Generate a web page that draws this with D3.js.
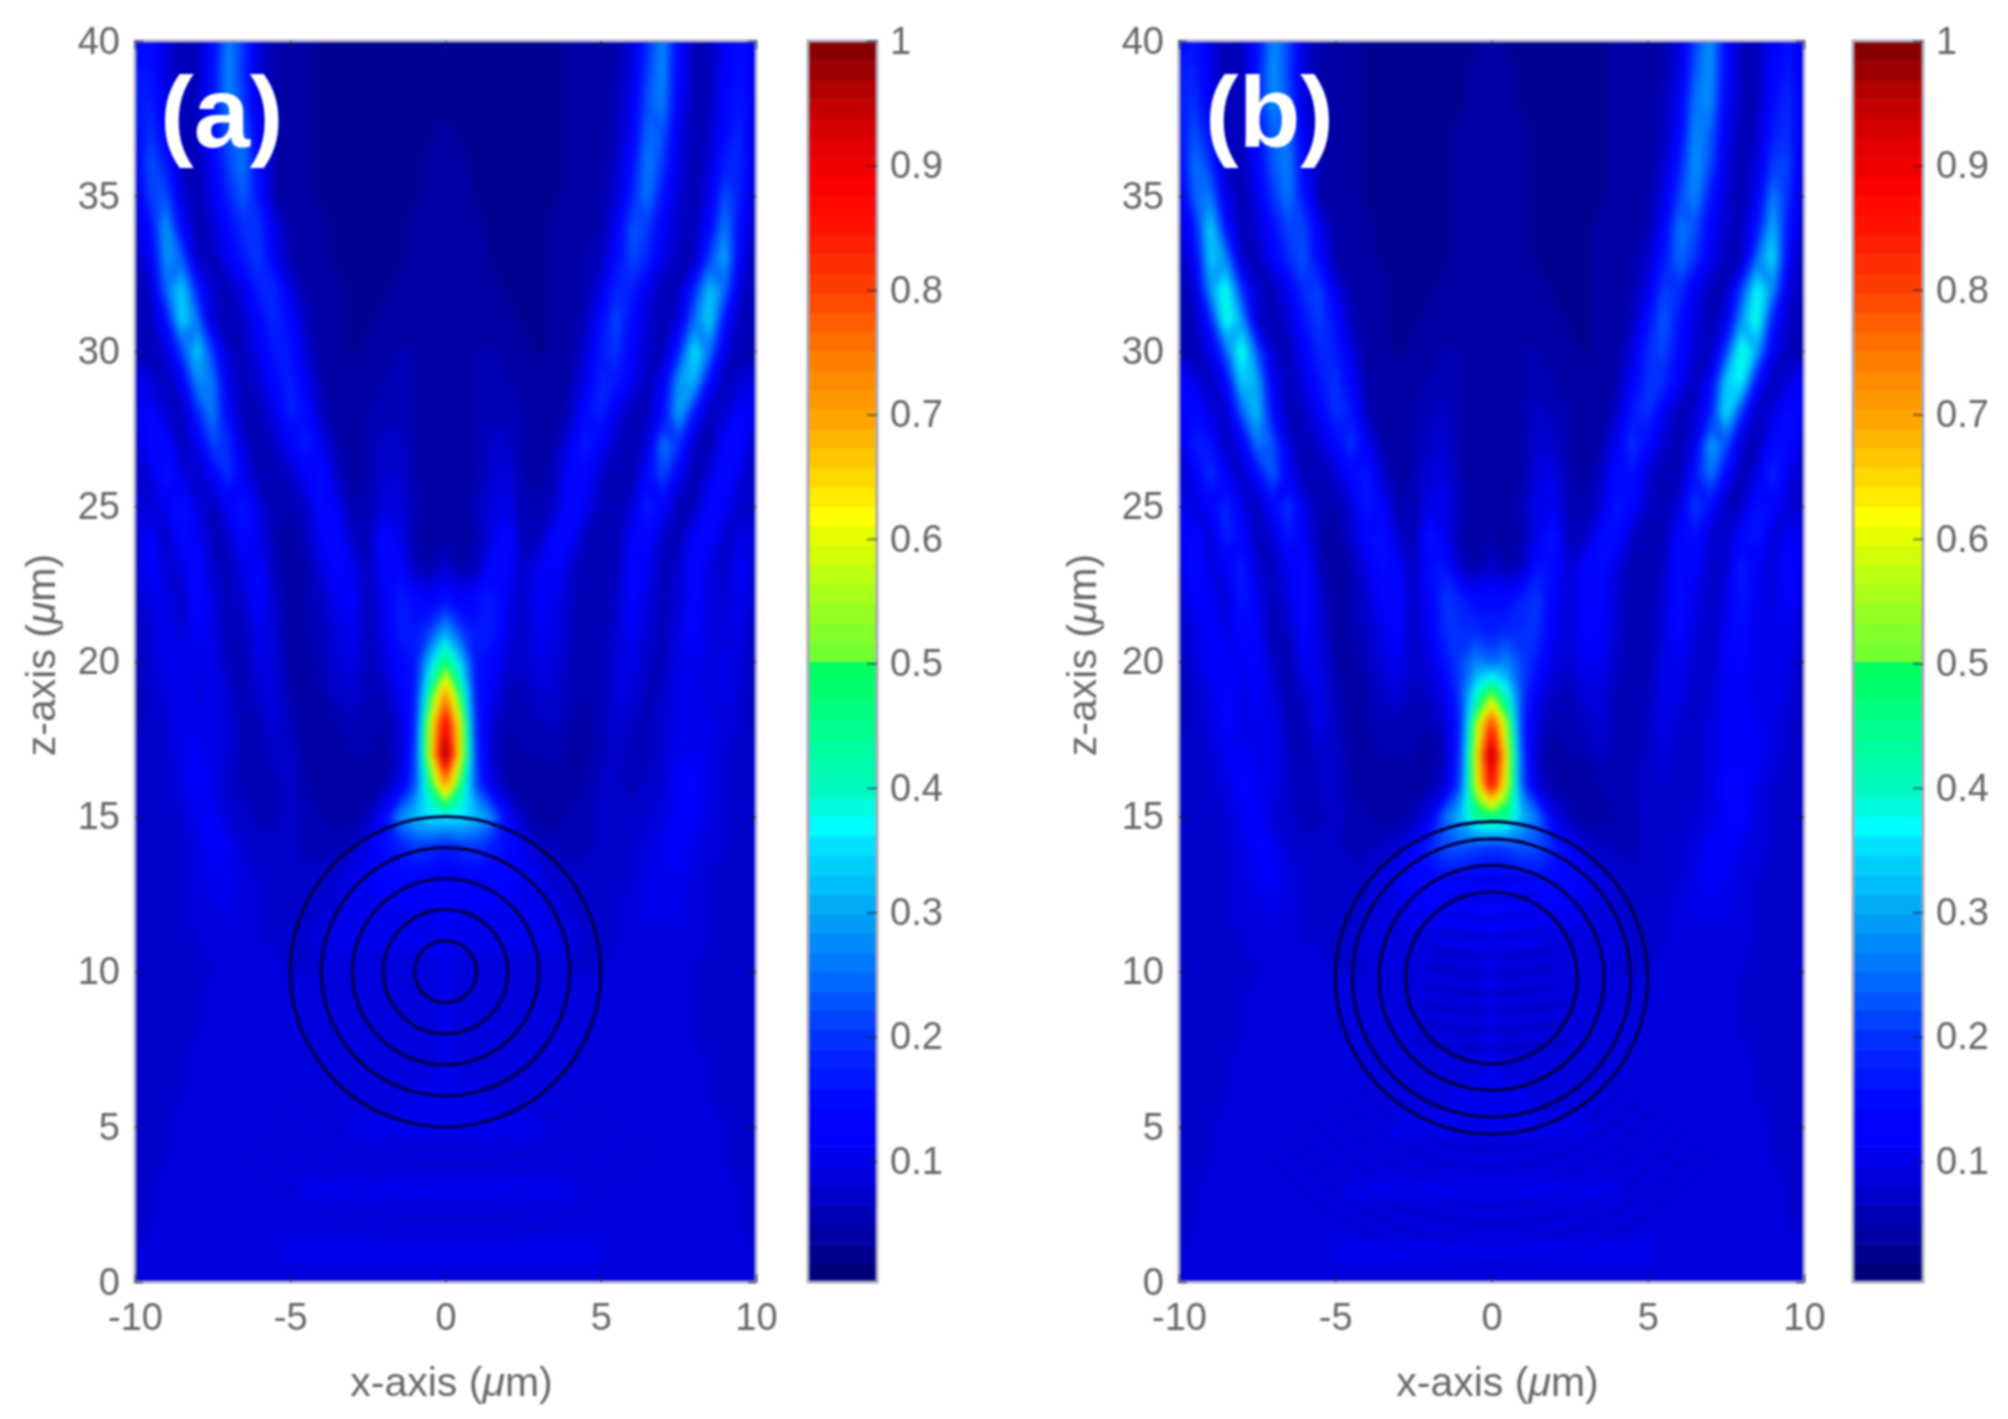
<!DOCTYPE html>
<html>
<head>
<meta charset="utf-8">
<script src="https://cdn.jsdelivr.net/npm/d3@7"></script>
<style>
  html, body { margin: 0; background: #fff; }
  svg { display: block; filter: blur(1px); }
  text { font-family: "Liberation Sans", Arial, sans-serif; }
</style>
</head>
<body>
<div id="chart"></div>
<script>
// field intensity in percent of the maximum
// rows go from z = 40 down to z = 0, columns from x = -10 to x = 10 every 0.5
const fieldA = [
  [14,15,9,5,6,14,27,20,8,5,4,4,3,3,3,3,3,3,3,3,3,3,3,3,3,3,3,3,4,4,4,5,8,19,28,14,6,6,11,15,11],
  [16,16,9,5,6,15,28,19,8,5,4,4,3,3,3,3,3,3,3,3,3,3,3,3,3,3,3,3,4,4,4,5,9,21,28,13,6,6,12,16,10],
  [16,18,10,5,6,16,27,21,9,5,4,4,3,3,3,3,3,3,3,3,3,3,3,3,3,3,3,3,4,4,4,6,10,23,27,12,6,6,13,17,9],
  [14,20,13,6,6,14,23,25,11,5,4,4,3,3,3,3,3,3,3,3,4,3,3,3,3,3,3,3,4,4,4,6,12,25,23,10,5,7,15,18,8],
  [12,23,17,6,5,12,21,26,13,5,4,4,3,3,3,3,3,3,3,4,4,4,3,3,3,3,3,3,4,4,4,7,15,27,20,9,5,8,18,19,8],
  [10,21,23,9,5,10,18,24,15,5,4,4,3,3,3,3,3,3,3,4,4,4,3,3,3,3,3,3,4,4,5,8,18,26,16,8,5,10,23,17,7],
  [8,15,30,14,5,8,14,20,20,9,5,4,4,3,3,3,3,3,4,4,4,4,4,3,3,3,3,4,4,4,5,11,23,21,12,7,6,14,27,14,6],
  [6,11,29,24,7,6,11,17,21,11,5,4,4,3,3,3,3,3,4,4,4,4,4,3,3,3,3,4,4,5,6,14,22,18,10,6,6,21,31,11,5],
  [5,7,25,34,18,7,6,10,18,19,9,5,4,4,3,3,3,4,4,4,4,4,4,4,3,3,3,4,4,5,9,19,18,10,6,6,18,33,25,8,5],
  [5,6,15,35,26,8,5,7,14,19,14,6,4,4,3,3,4,4,4,4,4,4,4,4,4,3,3,4,4,6,14,22,14,8,5,9,25,35,15,6,5],
  [5,5,9,21,34,20,7,6,11,17,16,8,4,4,3,4,4,5,5,4,4,4,5,5,4,4,3,4,4,8,17,20,13,7,6,18,36,26,9,5,5],
  [11,9,6,11,28,26,10,6,8,14,18,11,5,4,4,4,5,5,5,4,4,4,5,5,5,4,4,4,5,10,18,17,11,6,11,29,32,14,6,8,11],
  [10,13,8,6,18,27,13,5,6,10,18,15,6,4,4,5,6,6,5,4,4,4,5,6,6,5,4,4,6,15,18,10,6,6,14,31,17,6,8,13,10],
  [8,14,14,6,10,22,19,8,5,7,12,18,11,5,4,5,7,7,5,4,4,4,5,7,7,5,4,5,10,18,12,7,5,9,26,20,7,5,13,13,7],
  [6,9,17,10,7,12,20,11,5,5,7,12,15,7,4,5,8,8,5,4,4,4,5,8,9,5,4,6,13,14,7,5,5,14,22,12,5,9,16,9,6],
  [11,8,11,16,9,6,12,17,9,5,5,7,15,11,5,5,9,9,6,4,4,4,6,9,10,5,5,7,15,11,6,5,8,18,13,6,6,14,12,7,7],
  [9,12,7,15,12,6,7,15,10,5,4,6,12,14,7,5,15,10,5,4,5,4,5,10,15,5,6,13,13,6,5,5,12,14,7,6,12,14,7,10,9],
  [8,13,8,9,15,7,6,10,13,6,4,5,9,13,11,6,13,14,6,5,8,5,6,14,13,7,11,13,8,5,5,6,13,11,6,7,15,9,7,12,8],
  [7,10,10,7,14,9,6,8,13,7,4,5,7,11,12,6,10,17,15,12,16,12,15,17,10,7,12,11,7,5,5,7,13,9,6,8,14,9,8,11,7],
  [6,8,11,8,12,10,5,6,11,8,4,5,6,9,11,6,10,17,16,21,30,21,16,17,10,7,11,10,7,5,5,8,12,8,6,9,13,9,9,10,6],
  [6,8,10,10,10,11,6,5,10,9,4,4,6,8,10,6,8,14,16,33,48,33,16,14,8,7,10,9,6,5,5,9,10,7,6,10,11,9,10,9,6],
  [6,7,9,11,9,10,8,5,8,9,5,4,5,7,8,6,6,11,16,45,72,45,16,11,6,6,8,8,6,5,5,9,9,6,7,10,10,9,10,8,6],
  [6,7,8,11,10,10,9,5,6,9,6,4,4,5,6,5,5,8,17,58,90,58,17,8,5,5,6,7,5,4,6,8,7,6,8,10,10,10,9,8,6],
  [7,7,8,10,12,10,8,6,5,7,7,4,4,4,5,5,4,7,19,60,100,60,19,7,4,5,5,6,4,4,6,7,6,6,8,11,11,10,8,7,7],
  [7,7,8,9,13,10,7,6,5,6,7,5,4,4,4,4,5,10,22,45,72,45,22,10,5,4,4,4,4,5,7,7,6,7,8,12,13,10,8,7,7],
  [7,8,8,8,11,12,8,7,6,6,7,6,5,4,4,6,13,27,32,36,36,36,32,27,13,6,4,4,5,6,7,7,7,8,9,12,12,9,8,8,7],
  [8,8,8,8,9,12,11,8,7,7,7,6,6,6,7,10,15,17,20,19,17,19,20,17,15,10,7,6,6,6,7,7,8,9,11,12,10,9,8,8,8],
  [8,8,8,8,9,11,11,9,8,7,7,7,7,8,10,11,12,13,13,13,12,13,13,13,12,11,10,8,7,7,7,8,8,10,11,11,9,8,8,8,8],
  [8,8,8,8,9,9,10,9,8,8,7,7,8,9,10,11,11,11,11,11,12,11,11,11,11,11,10,9,8,7,7,8,9,10,10,10,9,8,8,8,8],
  [8,8,8,8,8,9,9,9,8,8,8,8,9,10,10,10,10,10,10,10,11,10,10,10,10,10,10,10,9,8,8,8,9,9,9,9,9,8,8,8,8],
  [8,8,8,8,8,8,9,9,9,9,8,8,8,9,9,9,9,9,9,9,10,9,9,9,9,9,9,9,8,8,8,9,9,9,9,9,8,8,8,8,8],
  [8,8,8,8,8,9,9,9,9,9,9,9,9,9,9,9,9,9,9,9,10,9,9,9,9,9,9,9,9,9,9,9,9,9,9,9,8,8,8,8,8],
  [8,8,8,8,8,9,9,9,9,9,9,9,9,9,9,9,9,9,9,9,10,9,9,9,9,9,9,9,9,9,9,9,9,9,9,9,8,8,8,8,8],
  [8,8,8,8,9,9,9,9,9,9,9,9,9,9,9,9,9,9,9,9,10,9,9,9,9,9,9,9,9,9,9,9,9,9,9,9,9,8,8,8,8],
  [8,8,8,8,9,9,9,9,9,9,9,9,9,9,9,9,9,9,10,10,10,10,10,9,9,9,9,9,9,9,9,9,9,9,9,9,9,8,8,8,8],
  [8,8,8,9,9,9,9,9,9,9,9,9,9,9,10,10,10,10,10,10,10,10,10,10,10,10,10,9,9,9,9,9,9,9,9,9,9,9,8,8,8],
  [8,8,8,9,9,9,9,9,9,9,9,9,9,9,9,9,9,9,9,9,9,9,9,9,9,9,9,9,9,9,9,9,9,9,9,9,9,9,8,8,8],
  [8,8,9,9,9,9,9,9,9,9,9,10,10,10,10,10,10,10,10,10,10,10,10,10,10,10,10,10,10,9,9,9,9,9,9,9,9,9,9,8,8],
  [8,8,9,9,9,9,9,9,9,9,9,9,9,9,9,9,9,9,9,9,9,9,9,9,9,9,9,9,9,9,9,9,9,9,9,9,9,9,9,8,8],
  [8,9,9,9,9,9,9,9,9,9,10,10,10,10,10,10,10,10,10,10,10,10,10,10,10,10,10,10,10,10,10,9,9,9,9,9,9,9,9,9,8],
  [8,9,9,9,9,9,9,9,9,9,9,9,9,9,9,9,9,9,9,9,9,9,9,9,9,9,9,9,9,9,9,9,9,9,9,9,9,9,9,9,8]
]

const fieldB = [
  [14,16,10,5,6,15,28,22,8,5,4,4,3,3,3,3,3,3,3,3,4,3,3,3,3,3,3,3,4,4,4,5,8,21,29,15,6,6,12,16,12],
  [17,18,10,5,6,16,29,21,8,5,4,4,3,3,3,3,3,3,3,4,4,4,3,3,3,3,3,3,4,4,4,5,9,23,29,14,6,6,13,17,11],
  [17,20,11,5,6,17,28,23,9,5,4,4,3,3,3,3,3,3,3,4,4,4,3,3,3,3,3,3,4,4,4,6,11,26,28,13,6,6,15,19,10],
  [15,23,15,6,6,15,24,26,11,5,4,4,3,3,3,3,3,3,4,4,4,4,4,3,3,3,3,3,4,4,4,6,13,28,24,11,5,7,17,20,9],
  [13,26,20,6,5,13,23,27,13,5,4,4,3,3,3,3,3,3,4,4,4,4,4,3,3,3,3,3,4,4,4,7,17,29,22,9,5,9,21,21,8],
  [10,24,27,10,5,10,20,26,16,5,4,4,3,3,3,3,3,3,4,4,4,4,4,3,3,3,3,3,4,4,5,9,21,28,17,8,5,11,27,19,7],
  [8,17,35,16,5,8,15,22,22,10,5,4,4,3,3,3,3,3,4,4,4,4,4,3,3,3,3,4,4,4,5,12,26,23,13,7,6,16,32,16,6],
  [6,12,34,28,7,6,12,19,23,13,5,4,4,3,3,3,3,3,4,4,4,4,4,3,3,3,3,4,4,5,7,16,25,20,11,6,6,25,36,12,5],
  [5,8,29,39,20,7,6,11,20,21,10,5,4,4,3,3,3,4,4,4,4,4,4,4,3,3,3,4,4,5,10,21,20,11,6,6,21,38,28,9,5],
  [5,6,17,40,30,8,5,8,16,21,15,6,4,4,3,3,4,4,4,4,4,4,4,4,4,3,3,4,4,6,15,24,16,9,5,10,29,40,17,7,5],
  [6,5,10,24,40,23,7,6,12,19,18,9,4,4,3,4,4,5,5,4,4,4,5,5,4,4,3,4,4,9,19,22,14,8,6,21,41,30,11,6,5],
  [13,10,6,13,34,31,11,6,9,16,20,13,5,4,4,4,5,6,5,4,4,4,5,6,5,4,4,4,5,12,20,19,12,6,12,34,37,15,6,9,13],
  [12,15,9,7,23,33,15,5,7,12,20,17,6,4,4,5,6,7,5,4,4,4,5,7,6,5,4,4,7,17,20,11,6,7,17,36,20,6,9,15,12],
  [9,17,16,6,11,26,23,9,5,8,13,20,12,5,4,5,7,8,5,4,4,4,5,8,7,5,4,5,11,20,14,8,5,10,30,23,8,5,15,15,8],
  [7,11,20,12,7,14,24,12,5,5,8,14,17,8,4,5,9,9,5,4,4,4,5,9,10,5,4,7,15,16,8,5,5,16,26,14,5,10,19,10,7],
  [13,9,13,19,10,6,14,20,10,5,5,8,17,13,5,5,10,11,6,4,4,4,6,11,11,5,5,8,17,13,7,5,9,21,15,6,7,16,14,8,8],
  [11,14,8,18,14,6,8,17,12,5,4,7,14,16,8,5,17,11,5,4,5,4,5,11,17,5,7,15,15,7,5,5,14,16,8,7,14,17,8,12,10],
  [9,16,9,11,18,8,6,11,15,6,4,5,10,15,13,6,15,17,7,5,8,5,7,17,15,8,13,15,9,5,5,7,15,13,7,8,18,11,8,14,9],
  [8,12,12,8,17,11,6,9,15,8,4,5,8,13,14,7,12,20,18,14,15,14,18,20,12,8,14,13,8,5,5,8,15,10,7,9,17,11,9,13,8],
  [7,9,13,9,14,12,5,7,13,9,4,5,7,10,13,7,11,19,19,19,17,19,19,19,11,8,13,12,8,5,5,9,14,9,7,11,15,10,10,11,7],
  [6,9,12,12,11,13,7,5,11,10,5,4,6,9,11,7,9,16,21,27,24,27,21,16,9,8,11,11,7,5,5,10,11,8,7,11,13,10,11,10,6],
  [6,7,10,13,10,12,9,5,8,10,6,4,5,7,9,6,7,11,21,38,52,38,21,11,7,6,9,9,6,5,6,10,10,7,8,11,12,10,11,9,6],
  [6,7,9,13,10,11,11,6,6,10,7,4,5,6,6,5,5,8,18,54,82,54,18,8,5,5,7,8,6,5,7,10,8,7,9,12,12,11,10,8,6],
  [7,7,8,11,12,10,11,7,5,8,8,4,4,5,5,5,4,6,20,60,98,60,20,6,4,5,5,7,5,5,7,9,7,7,9,12,12,12,9,8,7],
  [7,7,8,9,13,11,10,7,6,7,8,5,4,4,4,4,5,8,22,58,88,58,22,8,5,4,4,5,5,6,8,8,7,7,9,13,13,10,8,7,7],
  [7,8,8,8,11,12,8,7,6,6,7,6,5,4,4,6,10,25,32,44,46,44,32,25,10,6,4,4,5,6,7,7,7,8,9,12,13,9,8,8,7],
  [8,8,8,8,9,13,11,8,7,7,7,6,6,7,8,12,18,22,23,21,20,21,23,22,18,12,8,7,6,6,7,7,8,9,12,12,10,9,8,8,8],
  [8,8,8,8,9,11,12,9,8,7,7,7,8,9,11,14,14,15,14,13,12,13,14,15,14,14,11,9,8,7,7,8,8,10,12,11,9,8,8,8,8],
  [8,8,8,8,9,9,10,9,8,8,7,7,8,9,10,11,11,12,12,12,14,12,12,12,11,11,10,9,8,7,7,8,9,10,10,10,9,8,8,8,8],
  [8,8,8,8,8,9,9,9,8,8,8,8,9,9,9,9,9,10,10,10,11,10,10,10,9,9,9,9,9,8,8,8,9,9,9,9,9,8,8,8,8],
  [8,8,8,8,8,8,9,9,9,9,8,8,8,9,9,9,9,9,9,9,10,9,9,9,9,9,9,9,8,8,8,9,9,9,9,9,8,8,8,8,8],
  [8,8,8,8,8,9,9,9,9,9,9,9,9,9,9,9,9,9,9,9,10,9,9,9,9,9,9,9,9,9,9,9,9,9,9,9,8,8,8,8,8],
  [8,8,8,8,8,9,9,9,9,9,9,9,9,9,9,9,9,9,9,9,10,9,9,9,9,9,9,9,9,9,9,9,9,9,9,9,8,8,8,8,8],
  [8,8,8,8,9,9,9,9,9,9,9,9,9,9,9,9,9,9,9,9,10,9,9,9,9,9,9,9,9,9,9,9,9,9,9,9,9,8,8,8,8],
  [8,8,8,8,9,9,9,9,9,9,9,9,9,9,9,9,9,9,10,10,10,10,10,9,9,9,9,9,9,9,9,9,9,9,9,9,9,8,8,8,8],
  [8,8,8,9,9,9,9,9,9,9,9,9,9,9,10,10,10,10,10,10,10,10,10,10,10,10,10,9,9,9,9,9,9,9,9,9,9,9,8,8,8],
  [8,8,8,9,9,9,9,9,9,9,9,9,9,9,9,9,9,9,9,9,9,9,9,9,9,9,9,9,9,9,9,9,9,9,9,9,9,9,8,8,8],
  [8,8,9,9,9,9,9,9,9,9,9,10,10,10,10,10,10,10,10,10,10,10,10,10,10,10,10,10,10,9,9,9,9,9,9,9,9,9,9,8,8],
  [8,8,9,9,9,9,9,9,9,9,9,9,9,9,9,9,9,9,9,9,9,9,9,9,9,9,9,9,9,9,9,9,9,9,9,9,9,9,9,8,8],
  [8,9,9,9,9,9,9,9,9,9,10,10,10,10,10,10,10,10,10,10,10,10,10,10,10,10,10,10,10,10,10,9,9,9,9,9,9,9,9,9,8],
  [8,9,9,9,9,9,9,9,9,9,9,9,9,9,9,9,9,9,9,9,9,9,9,9,9,9,9,9,9,9,9,9,9,9,9,9,9,9,9,9,8]
]

// shell radii in um, sphere centre on the z axis
const shellsA = [1, 2, 3, 4, 5]
const shellsB = [2.75, 3.6, 4.45, 5]
const centreZA = 10
const centreZB = 9.8

// dark interference fringes: radius in um, measured from the z given per group
const ringsBelowA = [5.7, 6.3, 6.9, 7.5, 8.1, 8.7]
const ringsBelowB = [5.5, 6.1, 6.7, 7.3, 7.9, 8.5, 9.1]
const ringsInsideB = [7, 7.6, 8.2, 8.8, 9.4, 10, 10.6, 11.2, 11.8, 12.4]

const xTicks = [-10, -5, 0, 5, 10]
const zTicks = [0, 5, 10, 15, 20, 25, 30, 35, 40]
const barTicks = [0.1, 0.2, 0.3, 0.4, 0.5, 0.6, 0.7, 0.8, 0.9, 1]

// colour map, note the jump at 0.5
const mapStops = [0, 0.03, 0.07, 0.1, 0.12, 0.15, 0.2, 0.25, 0.3, 0.35, 0.37, 0.4, 0.45, 0.5, 0.505, 0.55, 0.6, 0.62, 0.65, 0.7, 0.75, 0.8, 0.85, 0.88, 0.92, 0.96, 1]
const mapColours = ['#00006e', '#000096', '#0000c8', '#0000eb', '#0000ff', '#0008ff', '#0032ff', '#006eff', '#00a5f5', '#00dcff', '#00ffff', '#00fabe', '#00ff8c', '#00ff5a', '#6eff32', '#a0ff1e', '#e1ff00', '#ffff00', '#ffd700', '#ffa000', '#ff7800', '#ff4100', '#ff1400', '#ff0000', '#e10000', '#b40000', '#7d0000']

const width = 2008
const height = 1419
const plotTop = 41
const plotBottom = 1282
const barMin = 0.003
const levels = 64

const colour = d3.scaleLinear().domain(mapStops).range(mapColours).interpolate(d3.interpolateRgb)

const svg = d3
  .select('#chart')
  .append('svg')
  .attr('width', width)
  .attr('height', height)

const tickStyle = g => {
  g.select('.domain').remove()
  g.selectAll('line').attr('stroke', '#1c1c3a').attr('stroke-width', 2).attr('stroke-opacity', 0.55)
  g.selectAll('text').attr('fill', '#666').attr('font-size', 38)
}

function drawPanel (cfg) {
  const x = d3.scaleLinear().domain([-10, 10]).range([cfg.left, cfg.right])
  const y = d3.scaleLinear().domain([0, 40]).range([plotBottom, plotTop])

  const nx = cfg.field[0].length
  const nz = cfg.field.length
  cfg.field.forEach((row, i) => {
    if (row.length !== nx) throw new Error(cfg.name + ' row ' + i + ' has ' + row.length)
  })

  // grid index to data units, d3.contours puts cell i at i + 0.5
  const gridX = d3.scaleLinear().domain([0.5, nx - 0.5]).range([-10, 10])
  const gridZ = d3.scaleLinear().domain([0.5, nz - 0.5]).range([40, 0])
  const path = d3.geoPath(d3.geoTransform({
    point: function (gx, gz) {
      this.stream.point(x(gridX(gx)), y(gridZ(gz)))
    }
  }))

  const step = (1 - barMin) / levels
  const thresholds = d3.range(levels).map(i => barMin + i * step)
  const bands = d3.contours()
    .size([nx, nz])
    .thresholds(thresholds.map(t => t * 100))(cfg.field.flat())

  const clipId = 'clip-' + cfg.name
  svg.append('clipPath')
    .attr('id', clipId)
    .append('rect')
    .attr('x', cfg.left)
    .attr('y', plotTop)
    .attr('width', cfg.right - cfg.left)
    .attr('height', plotBottom - plotTop)

  const plot = svg.append('g').attr('clip-path', 'url(#' + clipId + ')')

  plot.append('rect')
    .attr('x', cfg.left)
    .attr('y', plotTop)
    .attr('width', cfg.right - cfg.left)
    .attr('height', plotBottom - plotTop)
    .attr('fill', colour(0))

  plot.append('g')
    .style('filter', 'blur(3px)')
    .selectAll('path')
    .data(bands)
    .enter()
    .append('path')
    .attr('d', path)
    .attr('fill', d => colour(d.value / 100 + step / 2))

  // faint fringes
  const ringArc = d3.arc()
  const ringScale = x(1) - x(0)
  cfg.fringes.forEach(f => {
    plot.append('g')
      .attr('transform', 'translate(' + x(0) + ',' + y(f.z) + ')')
      .style('filter', 'blur(2.5px)')
      .selectAll('path')
      .data(f.radii)
      .enter()
      .append('path')
      .attr('d', d => ringArc({
        innerRadius: d * ringScale - 2.5,
        outerRadius: d * ringScale + 2.5,
        startAngle: Math.PI - f.spread,
        endAngle: Math.PI + f.spread
      }))
      .attr('fill', '#000070')
      .attr('fill-opacity', f.opacity)
  })

  plot.append('g')
    .selectAll('circle')
    .data(cfg.shells)
    .enter()
    .append('circle')
    .attr('cx', x(0))
    .attr('cy', y(cfg.centreZ))
    .attr('r', d => x(d) - x(0))
    .attr('fill', 'none')
    .attr('stroke', '#00004a')
    .attr('stroke-width', 3.2)

  // box
  svg.append('rect')
    .attr('x', cfg.left)
    .attr('y', plotTop)
    .attr('width', cfg.right - cfg.left)
    .attr('height', plotBottom - plotTop)
    .attr('fill', 'none')
    .attr('stroke', '#a9a9c9')
    .attr('stroke-width', 3)

  svg.append('g')
    .attr('transform', 'translate(' + cfg.left + ',0)')
    .call(d3.axisLeft(y).tickValues(zTicks).tickFormat(d => d).tickSize(-8).tickPadding(15))
    .call(tickStyle)
  svg.append('g')
    .attr('transform', 'translate(' + cfg.right + ',0)')
    .call(d3.axisRight(y).tickValues(zTicks).tickFormat('').tickSize(-8))
    .call(tickStyle)
  svg.append('g')
    .attr('transform', 'translate(0,' + plotBottom + ')')
    .call(d3.axisBottom(x).tickValues(xTicks).tickFormat(d => d).tickSize(-8).tickPadding(21))
    .call(tickStyle)
  svg.append('g')
    .attr('transform', 'translate(0,' + plotTop + ')')
    .call(d3.axisTop(x).tickValues(xTicks).tickFormat('').tickSize(-8))
    .call(tickStyle)

  // axis titles
  const xTitle = svg.append('text')
    .attr('x', x(0) + 6)
    .attr('y', 1396)
    .attr('text-anchor', 'middle')
    .attr('font-size', 41)
    .attr('fill', '#666')
  xTitle.append('tspan').text('x-axis (')
  xTitle.append('tspan').attr('font-style', 'italic').text('μ')
  xTitle.append('tspan').text('m)')

  const zTitle = svg.append('text')
    .attr('transform', 'translate(' + cfg.zTitleX + ',' + 655 + ') rotate(-90)')
    .attr('text-anchor', 'middle')
    .attr('font-size', 41)
    .attr('fill', '#666')
  zTitle.append('tspan').text('z-axis (')
  zTitle.append('tspan').attr('font-style', 'italic').text('μ')
  zTitle.append('tspan').text('m)')

  svg.append('text')
    .attr('x', cfg.labelX)
    .attr('y', 147)
    .attr('font-size', 101)
    .attr('font-weight', 'bold')
    .attr('fill', '#fff')
    .text(cfg.label)

  // colour bar
  const barY = d3.scaleLinear().domain([barMin, 1]).range([plotBottom, plotTop])
  const bar = d3.range(levels).map(i => barMin + i * step)
  svg.append('g')
    .selectAll('rect')
    .data(bar)
    .enter()
    .append('rect')
    .attr('x', cfg.barLeft)
    .attr('y', d => barY(d + step))
    .attr('width', cfg.barRight - cfg.barLeft)
    .attr('height', d => barY(d) - barY(d + step) + 0.5)
    .attr('fill', d => colour(d + step / 2))

  svg.append('rect')
    .attr('x', cfg.barLeft)
    .attr('y', plotTop)
    .attr('width', cfg.barRight - cfg.barLeft)
    .attr('height', plotBottom - plotTop)
    .attr('fill', 'none')
    .attr('stroke', '#a9a9b9')
    .attr('stroke-width', 3)

  svg.append('g')
    .attr('transform', 'translate(' + cfg.barRight + ',0)')
    .call(d3.axisRight(barY).tickValues(barTicks).tickFormat(d3.format('~g')).tickSize(-10).tickPadding(13))
    .call(tickStyle)
}

drawPanel({
  name: 'a',
  label: '(a)',
  field: fieldA,
  shells: shellsA,
  centreZ: centreZA,
  fringes: [{ z: centreZA, radii: ringsBelowA, spread: 0.9, opacity: 0.07 }],
  left: 135,
  right: 756,
  barLeft: 808,
  barRight: 877,
  zTitleX: 55,
  labelX: 160
})

drawPanel({
  name: 'b',
  label: '(b)',
  field: fieldB,
  shells: shellsB,
  centreZ: centreZB,
  fringes: [
    { z: centreZB, radii: ringsBelowB, spread: 0.9, opacity: 0.14 },
    { z: 20, radii: ringsInsideB, spread: 0.2, opacity: 0.26 }
  ],
  left: 1179,
  right: 1804,
  barLeft: 1853,
  barRight: 1923,
  zTitleX: 1096,
  labelX: 1205
})
</script>
</body>
</html>
